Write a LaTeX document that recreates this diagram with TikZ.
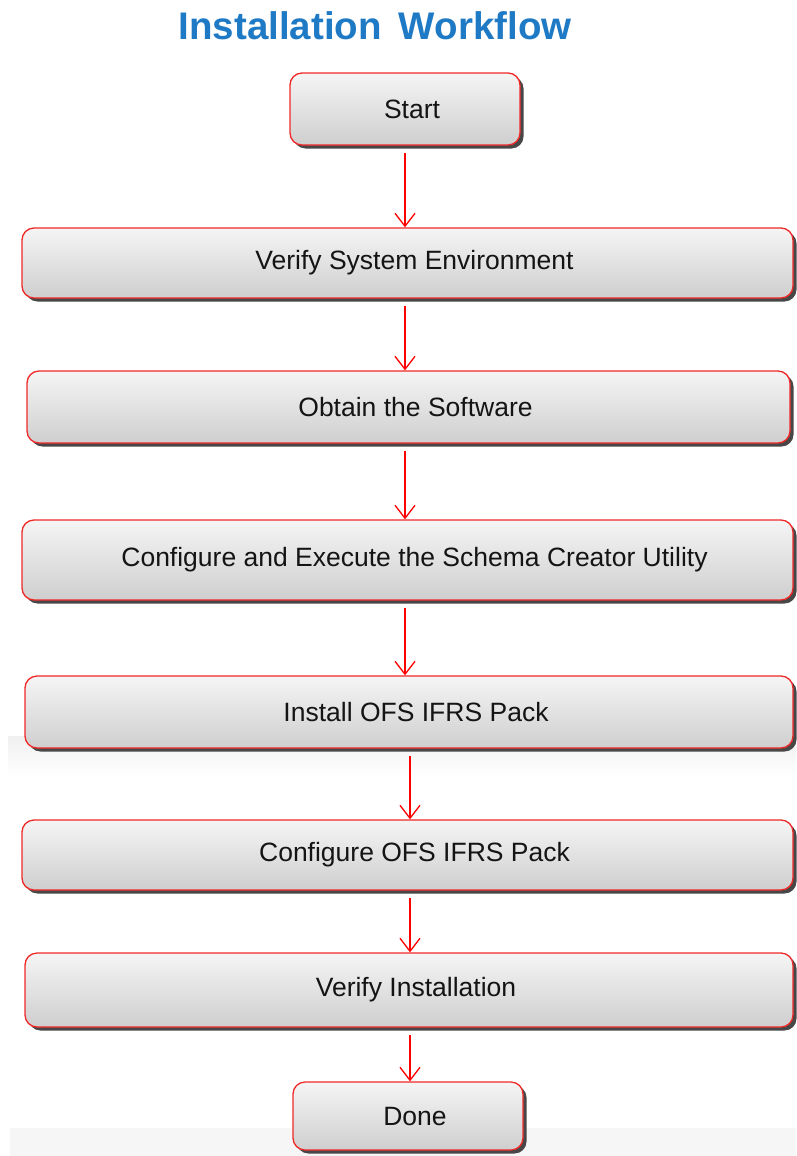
\documentclass[tikz,border=0pt]{standalone}
\usepackage{fontspec}
\setmainfont{Liberation Sans}
\usetikzlibrary{arrows.meta,shadows}
\definecolor{titleblue}{RGB}{30,122,196}
\definecolor{boxred}{RGB}{240,40,40}
\tikzset{
  stepbox/.style={draw=boxred, line width=1.3pt, rounded corners=12pt,
    top color=gray!8, bottom color=gray!38, inner sep=0pt,
    text=black!92, font=\fontsize{26.5}{30}\selectfont,
    execute at begin node={\hspace*{14pt}},
    drop shadow={shadow xshift=3.5pt, shadow yshift=-3.5pt, fill=black!72, opacity=1}},
  arr/.style={draw=red, line width=1.3pt, -{Straight Barb[length=13pt,width=20pt,line width=1.3pt]}},
}
\begin{document}
\begin{tikzpicture}[x=1pt,y=-1pt]
\useasboundingbox (0,0) rectangle (796,1156);
\fill[top color=gray!12, bottom color=white] (8,736) rectangle (796,776);
\fill[gray!7] (10,1128) rectangle (796,1156);
\node[font=\bfseries\fontsize{38.5}{42}\selectfont, text=titleblue] (title) at (375,26) {Installation\, Workflow};
\node[stepbox, minimum width=230pt, minimum height=72pt] (s0) at (405,109) {Start};
\node[stepbox, minimum width=771pt, minimum height=70pt] (s1) at (407.5,263) {Verify System Environment};
\node[stepbox, minimum width=763pt, minimum height=72pt] (s2) at (408.5,407) {Obtain the Software};
\node[stepbox, minimum width=771pt, minimum height=80pt] (s3) at (407.5,560) {Configure and Execute the Schema Creator Utility};
\node[stepbox, minimum width=768pt, minimum height=72pt] (s4) at (409,712) {Install OFS IFRS Pack};
\node[stepbox, minimum width=771pt, minimum height=70pt] (s5) at (407.5,855) {Configure OFS IFRS Pack};
\node[stepbox, minimum width=768pt, minimum height=74pt] (s6) at (409,990) {Verify Installation};
\node[stepbox, minimum width=230pt, minimum height=68pt] (s7) at (408,1116) {Done};
\foreach \a/\b/\dx in {s0/s1/0,s1/s2/-2.5,s2/s3/-3.5,s3/s4/-2.5,s4/s5/1,s5/s6/2.5,s6/s7/1}
  \draw[arr] ([xshift=\dx pt,yshift=-7pt]\a.south) -- ([xshift=\dx pt]\a.south |- \b.north);
\end{tikzpicture}
\end{document}
